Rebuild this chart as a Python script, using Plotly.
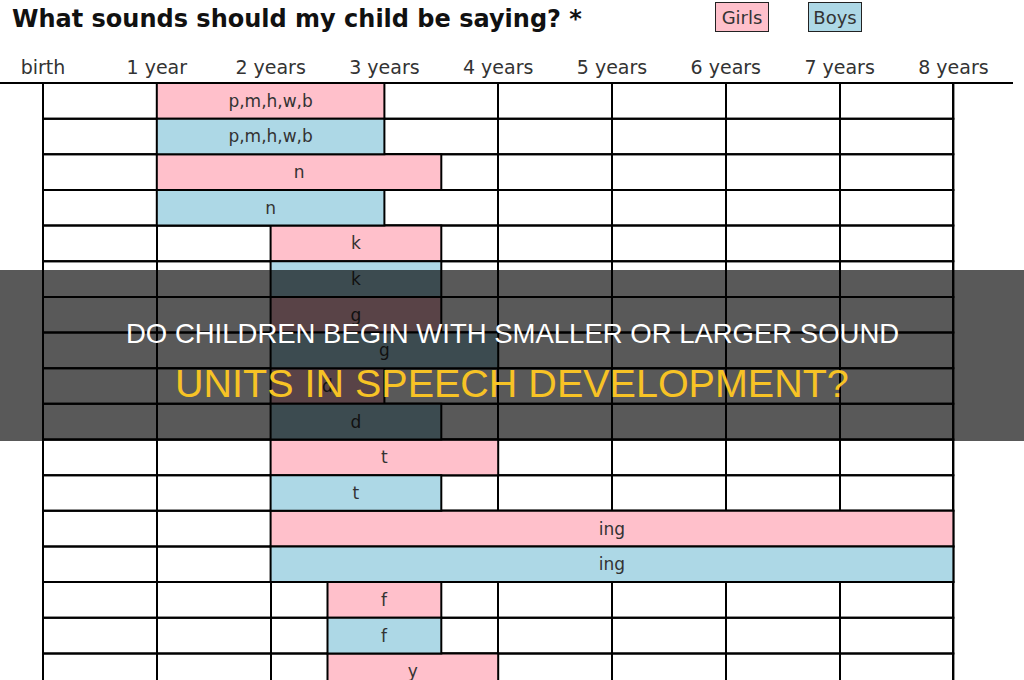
import plotly.graph_objects as go

# ---------------- data ----------------
age_ticks = [0, 1, 2, 3, 4, 5, 6, 7, 8]
age_labels = ["birth", "1 year", "2 years", "3 years", "4 years",
              "5 years", "6 years", "7 years", "8 years"]

sounds = ["p,m,h,w,b", "p,m,h,w,b", "n", "n", "k", "k", "g", "g",
          "d", "d", "t", "t", "ing", "ing", "f", "f", "y"]
groups = ["Girls", "Boys", "Girls", "Boys", "Girls", "Boys", "Girls", "Boys",
          "Girls", "Boys", "Girls", "Boys", "Girls", "Boys", "Girls", "Boys", "Girls"]
start_age = [1, 1, 1, 1, 2, 2, 2, 2, 2, 2, 2, 2, 2, 2, 2.5, 2.5, 2.5]
end_age = [3, 3, 3.5, 3, 3.5, 3.5, 3.5, 4, 3, 3.5, 4, 3.5, 8, 8, 3.5, 3.5, 4]

title_text = "What sounds should my child be saying? *"
banner_line1 = "DO CHILDREN BEGIN WITH SMALLER OR LARGER SOUND"
banner_line2 = "UNITS IN SPEECH DEVELOPMENT?"

# ---------------- style ----------------
W, H = 1024, 680
TOP = 83                # pixel top of table body
ROW_H = 35.65           # pixel height of one row
X0_PX, PX_PER_YEAR = 43, 113.8
COLORS = {"Girls": "#ffc0cb", "Boys": "#add8e6"}
FONT = "DejaVu Sans, Verdana, sans-serif"
TXT = "#333333"

n = len(sounds)
ycenter = [i + 0.5 for i in range(n)]

def py(pix):  # pixel y -> paper y
    return (H - pix) / (H - TOP)

fig = go.Figure()

# table frame (row boundaries)
fig.add_trace(go.Bar(
    orientation="h", y=ycenter, base=[age_ticks[0]] * n,
    x=[age_ticks[-1] - age_ticks[0]] * n, width=1,
    marker=dict(color="rgba(0,0,0,0)", line=dict(color="black", width=2)),
    hoverinfo="skip", showlegend=False))

for g in ["Girls", "Boys"]:
    idx = [i for i in range(n) if groups[i] == g]
    fig.add_trace(go.Bar(
        orientation="h", name=g,
        y=[ycenter[i] for i in idx],
        base=[start_age[i] for i in idx],
        x=[end_age[i] - start_age[i] for i in idx],
        width=1,
        text=[sounds[i] for i in idx],
        textposition="inside", insidetextanchor="middle", textangle=0,
        textfont=dict(family=FONT, size=17, color=TXT),
        constraintext="none",
        marker=dict(color=COLORS[g], line=dict(color="black", width=2)),
        showlegend=False))

xmin = -X0_PX / PX_PER_YEAR
xmax = (W - X0_PX) / PX_PER_YEAR
ymax = (H - TOP) / ROW_H

fig.update_layout(
    width=W, height=H,
    margin=dict(l=0, r=0, t=TOP, b=0),
    paper_bgcolor="white", plot_bgcolor="white",
    barmode="overlay",
    xaxis=dict(range=[xmin, xmax], side="top", tickmode="array",
               tickvals=age_ticks, ticktext=age_labels, ticks="",
               ticklabelstandoff=4,
               tickfont=dict(family=FONT, size=19, color=TXT),
               showgrid=True, gridcolor="black", gridwidth=2,
               zeroline=False, showline=False, fixedrange=True),
    yaxis=dict(range=[ymax, 0], showticklabels=False, showgrid=False,
               zeroline=False, fixedrange=True),
    uniformtext=dict(minsize=17, mode="show"),
)

shapes = [
    # header underline
    dict(type="line", xref="paper", yref="paper", x0=0, x1=1013 / W,
         y0=1, y1=1, line=dict(color="black", width=2)),
    # dark banner
    dict(type="rect", xref="paper", yref="paper", x0=0, x1=1,
         y0=py(441), y1=py(270), fillcolor="rgba(0,0,0,0.65)",
         line=dict(width=0), layer="above"),
]
fig.update_layout(shapes=shapes)

annotations = [
    dict(text="<b>" + title_text + "</b>", xref="paper", yref="paper",
         x=10 / W, y=py(19), xanchor="left", yanchor="middle",
         showarrow=False, font=dict(family=FONT, size=24, color="#111111")),
    dict(text="Girls", xref="paper", yref="paper", x=741.5 / W, y=py(17),
         xanchor="center", yanchor="middle", showarrow=False,
         width=50, height=26, bgcolor=COLORS["Girls"], bordercolor="#222222",
         borderwidth=1, font=dict(family=FONT, size=18, color=TXT)),
    dict(text="Boys", xref="paper", yref="paper", x=834.5 / W, y=py(17),
         xanchor="center", yanchor="middle", showarrow=False,
         width=50, height=26, bgcolor=COLORS["Boys"], bordercolor="#222222",
         borderwidth=1, font=dict(family=FONT, size=18, color=TXT)),
    dict(text=banner_line1, xref="paper", yref="paper", x=0.5, y=py(333.5),
         xanchor="center", yanchor="middle", showarrow=False,
         font=dict(family="Liberation Sans, Arial, sans-serif", size=27.5, color="white")),
    dict(text=banner_line2, xref="paper", yref="paper", x=0.5, y=py(382.5),
         xanchor="center", yanchor="middle", showarrow=False,
         font=dict(family="Liberation Sans, Arial, sans-serif", size=39.5, color="#f7c325")),
]
fig.update_layout(annotations=annotations)

fig.write_html("out.html")
